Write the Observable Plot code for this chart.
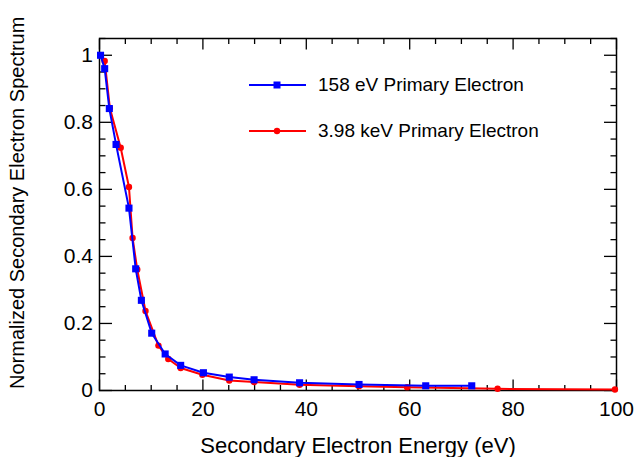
<!DOCTYPE html>
<html>
<head>
<meta charset="utf-8">
<script src="https://cdn.jsdelivr.net/npm/d3@7"></script>
<script src="https://cdn.jsdelivr.net/npm/@observablehq/plot@0.6"></script>
<style>
  html, body { margin: 0; padding: 0; background: #fff; }
  #wrap { position: relative; width: 634px; height: 457px; font-family: "Liberation Sans", Arial, Helvetica, sans-serif; }
  #legend { position: absolute; left: 249px; top: 70px; font-size: 19px; color: #000; }
  .row { display: flex; align-items: center; height: 30px; margin-bottom: 16px; }
  .row svg { margin-right: 12px; }
</style>
</head>
<body>
<div id="wrap"></div>
<script>
// Series: 158 eV primary electron (blue squares)
const blueX = [0.2, 1.0, 1.9, 3.2, 5.7, 7.0, 8.1, 10.1, 12.7, 15.7, 20.1, 25.1, 29.9, 38.7, 50.2, 63.1, 72.0];
const blueY = [1.0, 0.960, 0.841, 0.734, 0.544, 0.363, 0.269, 0.171, 0.109, 0.075, 0.053, 0.040, 0.032, 0.023, 0.018, 0.014, 0.014];
// Series: 3.98 keV primary electron (red circles)
const redX = [1.0, 2.0, 4.1, 5.7, 6.4, 7.3, 8.9, 11.4, 13.3, 15.7, 19.9, 25.1, 29.9, 38.7, 50.2, 59.5, 77.0, 99.7];
const redY = [0.983, 0.843, 0.724, 0.607, 0.455, 0.361, 0.237, 0.134, 0.094, 0.067, 0.047, 0.030, 0.025, 0.017, 0.013, 0.010, 0.005, 0.003];

const seriesNames = ["158 eV Primary Electron", "3.98 keV Primary Electron"];
const seriesColors = ["#0000ff", "#ff0000"];

const xMajor = [0, 20, 40, 60, 80, 100];
const xMinor = [5, 10, 15, 25, 30, 35, 45, 50, 55, 65, 70, 75, 85, 90, 95];
const yMajor = [0, 0.2, 0.4, 0.6, 0.8, 1];
const yMinor = [0.05, 0.1, 0.15, 0.25, 0.3, 0.35, 0.45, 0.5, 0.55, 0.65, 0.7, 0.75, 0.85, 0.9, 0.95, 1.05];

const xTitle = "Secondary Electron Energy (eV)";
const yTitle = "Normalized Secondary Electron Spectrum";

const blue = blueX.map((x, i) => ({x, y: blueY[i]}));
const red = redX.map((x, i) => ({x, y: redY[i]}));

const fmt = d => String(d);
const FS = 21;

const plot = Plot.plot({
  width: 634,
  height: 457,
  marginLeft: 99,
  marginRight: 18,
  marginTop: 38,
  marginBottom: 67,
  style: {fontFamily: '"Liberation Sans", Arial, Helvetica, sans-serif', fontSize: FS + "px", background: "#fff", color: "#000", overflow: "visible"},
  x: {domain: [0, 100]},
  y: {domain: [0, 1.05]},
  marks: [
    // tick marks, inward, all four sides
    Plot.axisX(xMajor, {anchor: "bottom", tickSize: -10.5, fill: "none", label: null, strokeWidth: 1.3}),
    Plot.axisX(xMinor, {anchor: "bottom", tickSize: -5, fill: "none", label: null, strokeWidth: 1.3}),
    Plot.axisX(xMajor, {anchor: "top", tickSize: -10.5, fill: "none", label: null, strokeWidth: 1.3}),
    Plot.axisX(xMinor, {anchor: "top", tickSize: -5, fill: "none", label: null, strokeWidth: 1.3}),
    Plot.axisY(yMajor, {anchor: "left", tickSize: -13, fill: "none", label: null, strokeWidth: 1.3}),
    Plot.axisY(yMinor, {anchor: "left", tickSize: -6.5, fill: "none", label: null, strokeWidth: 1.3}),
    Plot.axisY(yMajor, {anchor: "right", tickSize: -13, fill: "none", label: null, strokeWidth: 1.3}),
    Plot.axisY(yMinor, {anchor: "right", tickSize: -6.5, fill: "none", label: null, strokeWidth: 1.3}),
    // tick labels
    Plot.axisX(xMajor, {anchor: "bottom", tickSize: 0, tickPadding: 10.5, tickFormat: fmt, label: null, fontSize: FS}),
    Plot.axisY(yMajor, {anchor: "left", tickSize: 0, tickPadding: 6.5, tickFormat: fmt, label: null, fontSize: FS}),
    // axis titles
    Plot.text([xTitle], {text: d => d, frameAnchor: "bottom", textAnchor: "middle", lineAnchor: "bottom", dy: 62.5, fontSize: 22}),
    Plot.text([yTitle], {text: d => d, frameAnchor: "bottom-left", rotate: -90, textAnchor: "start", lineAnchor: "bottom", dx: -76, dy: -1.5, fontSize: 20}),
    Plot.frame({stroke: "#000", strokeWidth: 1.5}),
    // data
    Plot.line(red, {x: "x", y: "y", stroke: seriesColors[1], strokeWidth: 2}),
    Plot.dot(red, {x: "x", y: "y", fill: seriesColors[1], r: 3.2, symbol: "circle"}),
    Plot.line(blue, {x: "x", y: "y", stroke: seriesColors[0], strokeWidth: 2}),
    Plot.dot(blue, {x: "x", y: "y", fill: seriesColors[0], r: 4, symbol: "square"})
  ]
});

const wrap = document.getElementById("wrap");
wrap.appendChild(plot);

// legend (inside plot area, like the original)
const legend = document.createElement("div");
legend.id = "legend";
seriesNames.forEach((name, i) => {
  const row = document.createElement("div");
  row.className = "row";
  const marker = i === 0
    ? `<rect x="24.5" y="11.5" width="7" height="7" fill="${seriesColors[i]}"/>`
    : `<circle cx="28" cy="15" r="3.2" fill="${seriesColors[i]}"/>`;
  row.innerHTML = `<svg width="57" height="30"><line x1="0" x2="57" y1="15" y2="15" stroke="${seriesColors[i]}" stroke-width="2"/>${marker}</svg><span>${name}</span>`;
  legend.appendChild(row);
});
wrap.appendChild(legend);
</script>
</body>
</html>
